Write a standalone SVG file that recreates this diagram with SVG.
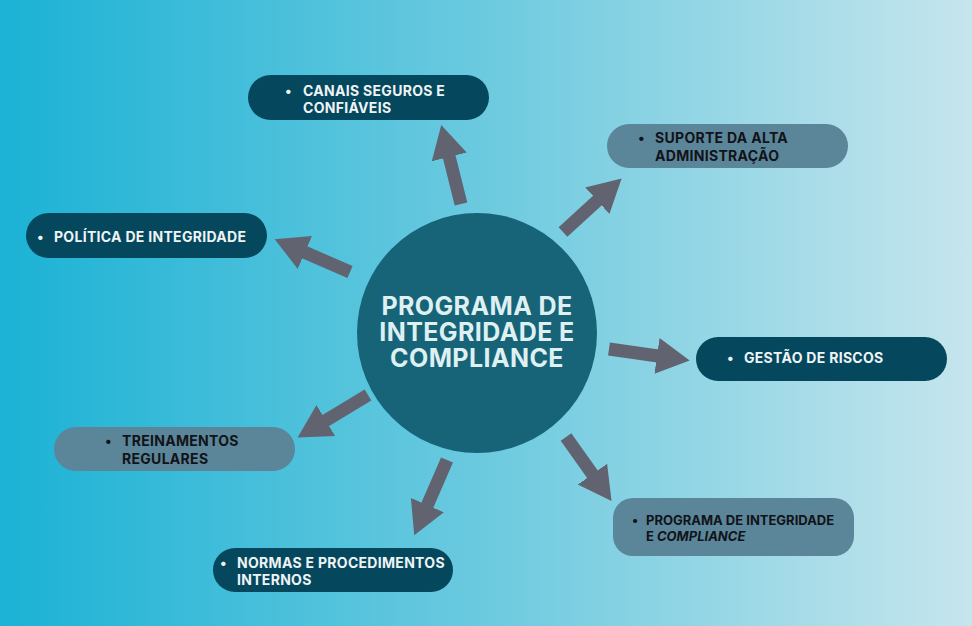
<svg xmlns="http://www.w3.org/2000/svg" width="972" height="626" viewBox="0 0 972 626">
  <defs>
    <linearGradient id="bg" x1="0" y1="0" x2="1" y2="0">
      <stop offset="0" stop-color="#1bb2d5"/>
      <stop offset="0.5" stop-color="#6ccadf"/>
      <stop offset="1" stop-color="#c6e5ed"/>
    </linearGradient>
    <marker id="head" markerUnits="userSpaceOnUse" markerWidth="34" markerHeight="38" viewBox="0 -19 34 38" refX="1" refY="0" orient="auto">
      <path d="M0,-18 L33,0 L0,18 Z" fill="#626370"/>
    </marker>
  </defs>
  <style>
    .dark { fill: #05485d; }
    .soft { fill: #5b8598; }
    .lt { fill: #eef4f6; font-family: Inter, "Liberation Sans", sans-serif; font-weight: 700; font-size: 14px; letter-spacing: 0.3px; }
    .dk { fill: #111318; font-family: Inter, "Liberation Sans", sans-serif; font-weight: 700; font-size: 14px; letter-spacing: 0.3px; }
    .sm { font-size: 13px; letter-spacing: 0px; }
    .ctr { fill: #dff0f2; font-family: Inter, "Liberation Sans", sans-serif; font-weight: 700; font-size: 25px; letter-spacing: 0.4px; text-anchor: middle; }
    .arr { stroke: #626370; stroke-width: 13; fill: none; marker-end: url(#head); }
  </style>
  <rect x="0" y="0" width="972" height="626" fill="url(#bg)"/>

  <g id="connectors">
    <line class="arr" x1="461" y1="204" x2="449" y2="156"/>
    <line class="arr" x1="563" y1="232" x2="598" y2="200"/>
    <line class="arr" x1="350" y1="272" x2="304" y2="252"/>
    <line class="arr" x1="609" y1="349" x2="658" y2="356"/>
    <line class="arr" x1="368" y1="395" x2="325" y2="421"/>
    <line class="arr" x1="447" y1="460" x2="427" y2="506"/>
    <line class="arr" x1="566" y1="437" x2="593" y2="475"/>
  </g>

  <g id="center">
    <circle cx="477" cy="333" r="120" fill="#176478"/>
    <text class="ctr" x="477" y="315">PROGRAMA DE</text>
    <text class="ctr" x="477" y="341">INTEGRIDADE E</text>
    <text class="ctr" x="477" y="367">COMPLIANCE</text>
  </g>

  <g id="canais">
    <rect class="dark" x="248" y="75" width="241" height="45" rx="22.5"/>
    <text class="lt" x="285" y="96">•</text>
    <text class="lt" x="303" y="96">CANAIS SEGUROS E</text>
    <text class="lt" x="303" y="113">CONFIÁVEIS</text>
  </g>

  <g id="suporte">
    <rect class="soft" x="607" y="124" width="241" height="44" rx="22"/>
    <text class="dk" x="638" y="143">•</text>
    <text class="dk" x="655" y="143">SUPORTE DA ALTA</text>
    <text class="dk" x="655" y="161">ADMINISTRAÇÃO</text>
  </g>

  <g id="politica">
    <rect class="dark" x="26" y="213" width="241" height="45" rx="22.5"/>
    <text class="lt" x="37" y="242">•</text>
    <text class="lt" x="54" y="242">POLÍTICA DE INTEGRIDADE</text>
  </g>

  <g id="gestao">
    <rect class="dark" x="696" y="337" width="251" height="44" rx="22"/>
    <text class="lt" x="727" y="363">•</text>
    <text class="lt" x="744" y="363">GESTÃO DE RISCOS</text>
  </g>

  <g id="treinamentos">
    <rect class="soft" x="54" y="427" width="241" height="44" rx="22"/>
    <text class="dk" x="105" y="446">•</text>
    <text class="dk" x="122" y="446">TREINAMENTOS</text>
    <text class="dk" x="122" y="464">REGULARES</text>
  </g>

  <g id="programa">
    <rect class="soft" x="613" y="498" width="241" height="58" rx="20"/>
    <text class="dk sm" x="632" y="525">•</text>
    <text class="dk sm" x="646" y="525">PROGRAMA DE INTEGRIDADE</text>
    <text class="dk sm" x="646" y="541">E <tspan font-style="italic">COMPLIANCE</tspan></text>
  </g>

  <g id="normas">
    <rect class="dark" x="213" y="548" width="240" height="44" rx="22"/>
    <text class="lt" x="220" y="568">•</text>
    <text class="lt" x="237" y="568">NORMAS E PROCEDIMENTOS</text>
    <text class="lt" x="237" y="585">INTERNOS</text>
  </g>
</svg>
